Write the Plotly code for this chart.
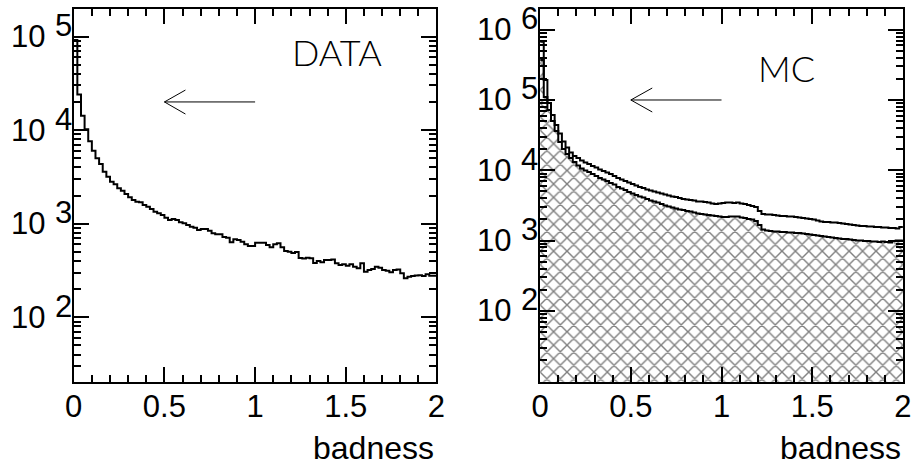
import numpy as np
import plotly.graph_objects as go

# ---------------- data ----------------
BIN_WIDTH = 0.02  # 100 bins on [0, 2]

DATA_COUNTS = [
    92000, 24000, 14200, 10200, 7590, 6030, 5000, 4345, 3595, 3180,
    2810, 2636, 2390, 2254, 2077, 1914, 1791, 1718, 1700, 1585,
    1520, 1436, 1343, 1291, 1238, 1159, 1096, 1123, 1096, 1035,
    1010, 968, 929, 906, 857, 877, 877, 841, 789, 771,
    771, 721, 709, 633, 681, 670, 642, 602, 578, 578,
    627, 627, 627, 592, 560, 602, 618, 560, 511, 502,
    486, 499, 430, 425, 432, 428, 380, 400, 387, 410,
    410, 415, 378, 362, 368, 355, 368, 347, 334, 378,
    307, 320, 328, 347, 339, 320, 315, 303, 320, 325,
    295, 261, 272, 276, 280, 282, 276, 288, 278, 278,
]

MC_TOTAL = [
    675000, 192500, 90700, 61200, 44100, 33400, 25700, 21100, 17900, 15970,
    14960, 13780, 12910, 12300, 11510, 10960, 10260, 9770, 9300, 8860,
    8300, 7770, 7400, 7050, 6700, 6380, 6080, 5790, 5600, 5330,
    5160, 4990, 4830, 4680, 4530, 4380, 4240, 4170, 4040, 3910,
    3845, 3785, 3720, 3600, 3610, 3540, 3485, 3370, 3315, 3370,
    3425, 3485, 3480, 3425, 3490, 3370, 3315, 3210, 3105, 3005,
    2637, 2390, 2350, 2360, 2312, 2275, 2240, 2235, 2203, 2210,
    2167, 2133, 2096, 2062, 2030, 1995, 1931, 1870, 1840, 1845,
    1808, 1810, 1779, 1750, 1722, 1694, 1667, 1640, 1614, 1616,
    1588, 1590, 1562, 1560, 1536, 1540, 1511, 1510, 1486, 1562,
]

MC_SELECTED = [
    370700, 110300, 72100, 50250, 36200, 25280, 20100, 17060, 14960, 13130,
    11700, 10610, 9940, 9460, 8860, 8300, 7770, 7400, 7050, 6600,
    6280, 5790, 5510, 5250, 4920, 4680, 4460, 4240, 4100, 3910,
    3720, 3600, 3485, 3315, 3160, 3055, 2960, 2865, 2770, 2725,
    2637, 2595, 2512, 2430, 2390, 2350, 2312, 2275, 2240, 2203,
    2167, 2170, 2205, 2200, 2195, 2133, 2096, 2030, 1995, 1900,
    1667, 1439, 1393, 1370, 1347, 1345, 1325, 1322, 1303, 1300,
    1282, 1280, 1261, 1241, 1221, 1201, 1182, 1163, 1144, 1125,
    1107, 1089, 1072, 1054, 1056, 1037, 1020, 1003, 1005, 987,
    985, 971, 970, 955, 972, 955, 940, 987, 1003, 1000,
]

X_TICKS = [0, 0.5, 1, 1.5, 2]
X_TICK_LABELS = ["0", "0.5", "1", "1.5", "2"]
DATA_Y_EXPONENTS = [2, 3, 4, 5]
MC_Y_EXPONENTS = [2, 3, 4, 5, 6]
X_TITLE = "badness"
DATA_LABEL = "DATA"
MC_LABEL = "MC"

# ---------------- helpers ----------------
def step_xy(counts):
    n = len(counts)
    x = list(np.round(np.arange(n + 1) * BIN_WIDTH, 6))
    y = list(counts) + [counts[-1]]
    return x, y

FONT = "Liberation Sans, Arial, sans-serif"
TICK_SIZE = 31
W, H = 923, 466
L_DOM = [66 / W, 436 / W]
R_DOM = [541.7 / W, 911.7 / W]
Y_DOM = [1 - 381.7 / H, 1 - 9.3 / H]

fig = go.Figure()

# DATA histogram
xd, yd = step_xy(DATA_COUNTS)
fig.add_trace(go.Scatter(x=xd, y=yd, mode="lines", line=dict(shape="hv", color="black", width=2),
                         xaxis="x", yaxis="y", showlegend=False, hoverinfo="skip"))

# MC: baseline for hatched fill
xm, ym_sel = step_xy(MC_SELECTED)
_, ym_tot = step_xy(MC_TOTAL)
fig.add_trace(go.Scatter(x=xm, y=[1] * len(xm), mode="lines", line=dict(width=0, shape="hv"),
                         xaxis="x2", yaxis="y2", showlegend=False, hoverinfo="skip"))
fig.add_trace(go.Scatter(x=xm, y=ym_sel, mode="lines", fill="tonexty",
                         fillpattern=dict(shape="x", size=9.5, solidity=0.27, fgcolor="black", bgcolor="white"),
                         line=dict(shape="hv", color="black", width=2),
                         xaxis="x2", yaxis="y2", showlegend=False, hoverinfo="skip"))
fig.add_trace(go.Scatter(x=xm, y=ym_tot, mode="lines", line=dict(shape="hv", color="black", width=2),
                         xaxis="x2", yaxis="y2", showlegend=False, hoverinfo="skip"))

# arrows (decoration) in data coordinates
ARROWS = [
    ("x", "y", 1.0, 0.5, 20000, 0.616, 26800, 14860),
    ("x2", "y2", 1.0, 0.5, 100000, 0.618, 148000, 67500),
]
for xa, ya, x1, x0, yv, xh, yh1, yh2 in ARROWS:
    fig.add_trace(go.Scatter(x=[x1, x0, None, xh, x0, xh], y=[yv, yv, None, yh1, yv, yh2],
                             mode="lines", line=dict(color="black", width=1),
                             xaxis=xa, yaxis=ya, showlegend=False, hoverinfo="skip"))

def xaxis_cfg(domain, anchor):
    return dict(domain=domain, anchor=anchor, range=[0, 2], showgrid=False, zeroline=False,
                showline=True, linecolor="black", linewidth=2, mirror="ticks",
                ticks="inside", ticklen=15, tickwidth=1.5, tickcolor="black",
                tickvals=X_TICKS, ticktext=X_TICK_LABELS,
                tickfont=dict(family=FONT, size=TICK_SIZE, color="black"),
                ticklabelstandoff=-4,
                minor=dict(dtick=0.1, tick0=0, ticks="inside", ticklen=7, tickwidth=1.5, tickcolor="black"))

def yaxis_cfg(domain, anchor, rng, exps):
    lo, hi = exps[0] - 1, exps[-1] + 1
    minors = [m * 10 ** e for e in range(lo, hi) for m in range(2, 10)]
    return dict(domain=domain, anchor=anchor, type="log", range=rng, showgrid=False, zeroline=False,
                showline=True, linecolor="black", linewidth=2, mirror="ticks",
                ticks="inside", ticklen=15, tickwidth=1.5, tickcolor="black",
                tickvals=[10 ** e for e in exps], showticklabels=False,
                minor=dict(tickmode="array", tickvals=minors, ticks="inside", ticklen=7,
                           tickwidth=1.5, tickcolor="black"))

fig.update_layout(
    width=W, height=H, margin=dict(l=0, r=0, t=0, b=0),
    paper_bgcolor="white", plot_bgcolor="white",
    xaxis=xaxis_cfg(L_DOM, "y"),
    yaxis=yaxis_cfg(Y_DOM, "x", [1.312, 5.291], DATA_Y_EXPONENTS),
    xaxis2=xaxis_cfg(R_DOM, "y2"),
    yaxis2=yaxis_cfg(Y_DOM, "x2", [0.993, 6.290], MC_Y_EXPONENTS),
)

ann = []
for xr, yr, exps in (("x domain", "y", DATA_Y_EXPONENTS), ("x2 domain", "y2", MC_Y_EXPONENTS)):
    for e in exps:
        ann.append(dict(xref=xr, yref=yr, x=0, y=e, text="10", showarrow=False, xanchor="right",
                        yanchor="middle", xshift=-27, font=dict(family=FONT, size=TICK_SIZE, color="black")))
        ann.append(dict(xref=xr, yref=yr, x=0, y=e, text=str(e), showarrow=False, xanchor="left",
                        yanchor="middle", xshift=-20, yshift=11, borderpad=0,
                        font=dict(family=FONT, size=TICK_SIZE, color="black")))
    ann.append(dict(xref=xr, yref="paper", x=1, y=1 - 448 / H, text=X_TITLE, showarrow=False,
                    xanchor="right", yanchor="middle", xshift=0,
                    font=dict(family=FONT, size=32, color="black")))

ann.append(dict(xref="x", yref="y", x=1.454, y=4.84, text=DATA_LABEL, showarrow=False,
                font=dict(family="Lato, Liberation Sans", size=36, color="black", weight=300)))
ann.append(dict(xref="x2", yref="y2", x=1.356, y=5.462, text=MC_LABEL, showarrow=False,
                font=dict(family="Lato, Liberation Sans", size=36, color="black", weight=300)))
fig.update_layout(annotations=ann)

fig.write_html("out.html", config={"displayModeBar": False},
               post_script="document.body.style.margin='0';document.body.style.overflow='hidden';")
